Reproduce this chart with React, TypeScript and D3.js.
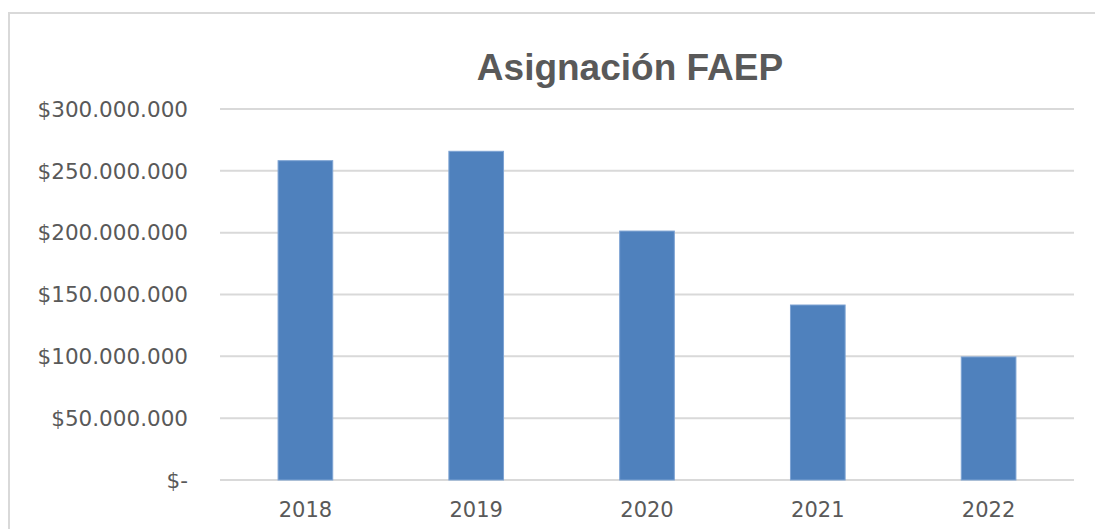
import React, { useEffect, useRef } from "react";
import * as d3 from "d3";

const years = ["2018", "2019", "2020", "2021", "2022"];
const asignacion = [258200000, 265800000, 201300000, 141500000, 99500000];
const tickValues = [0, 50000000, 100000000, 150000000, 200000000, 250000000, 300000000];
const tickLabels = ["$-", "$50.000.000", "$100.000.000", "$150.000.000", "$200.000.000", "$250.000.000", "$300.000.000"];

function App() {
    const chart = useRef<SVGSVGElement>(null);

    useEffect(() => {
        const width = 1095;
        const height = 529;
        const margin = { top: 109, right: 21, bottom: 49, left: 220 };
        const svg = d3.select(chart.current)
            .attr("width", width)
            .attr("height", height);

        // chart area border (right and bottom run off the picture)
        svg.append("rect")
            .attr("x", 9)
            .attr("y", 13)
            .attr("width", 1200)
            .attr("height", 600)
            .attr("fill", "#fff")
            .attr("stroke", "#d9d9d9")
            .attr("stroke-width", 2);

        svg.append("text")
            .attr("x", 630)
            .attr("y", 80)
            .attr("text-anchor", "middle")
            .attr("font-family", "Liberation Sans, Arial, sans-serif")
            .attr("font-weight", "bold")
            .attr("font-size", 37)
            .attr("fill", "#595959")
            .text("Asignación FAEP");

        const x = d3.scaleBand()
            .domain(years)
            .range([margin.left, width - margin.right])
            .paddingInner(0.68)
            .paddingOuter(0.34);

        const y = d3.scaleLinear()
            .domain([0, 300000000])
            .range([height - margin.bottom, margin.top]);

        // gridlines
        svg.append("g")
            .selectAll("line")
            .data(tickValues)
            .enter()
            .append("line")
                .attr("x1", margin.left)
                .attr("x2", width - margin.right)
                .attr("y1", d => y(d))
                .attr("y2", d => y(d))
                .attr("stroke", "#d9d9d9")
                .attr("stroke-width", 2);

        // y labels
        svg.append("g")
            .selectAll("text")
            .data(tickValues)
            .enter()
            .append("text")
                .attr("x", 188)
                .attr("y", d => y(d))
                .attr("dy", "0.36em")
                .attr("text-anchor", "end")
                .attr("font-family", "DejaVu Sans, sans-serif")
                .attr("font-size", 21.5)
                .attr("fill", "#595959")
                .text((d, i) => tickLabels[i]);

        // bars
        svg.append("g")
            .selectAll("rect")
            .data(asignacion)
            .enter()
            .append("rect")
                .attr("x", (d, i) => x(years[i]) as number)
                .attr("y", d => y(d))
                .attr("width", x.bandwidth())
                .attr("height", d => y(0) - y(d))
                .attr("fill", "#4f81bd")
                .attr("stroke", "#7da3d3")
                .attr("stroke-width", 1);

        // x labels
        svg.append("g")
            .selectAll("text")
            .data(years)
            .enter()
            .append("text")
                .attr("x", d => (x(d) as number) + x.bandwidth() / 2)
                .attr("y", 517)
                .attr("text-anchor", "middle")
                .attr("font-family", "DejaVu Sans, sans-serif")
                .attr("font-size", 21)
                .attr("fill", "#595959")
                .text(d => d);

        return () => {
            svg.selectAll("*").remove();
        };
    }, []);

    return (
        <div style={{ position: "fixed", left: 0, top: 0, background: "#fff" }}>
            <svg ref={chart} style={{ display: "block" }}></svg>
        </div>
    );
}

export default App;
